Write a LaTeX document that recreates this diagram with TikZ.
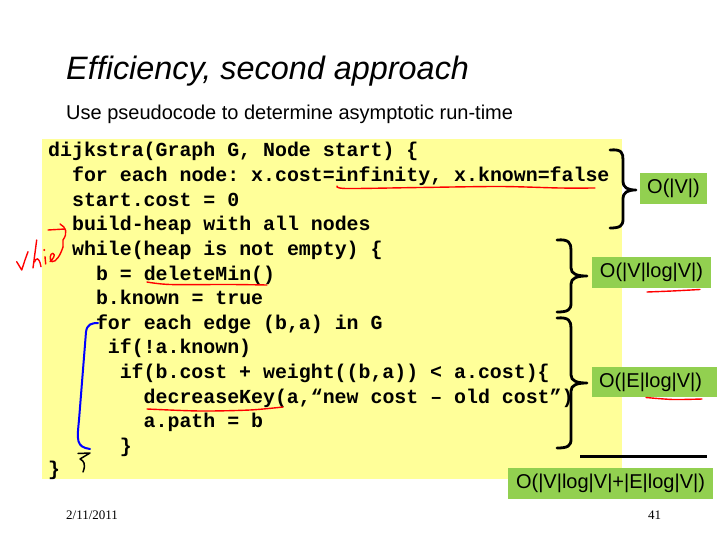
\documentclass[tikz,border=0pt]{standalone}
\usepackage{fontspec}
\setmainfont{Liberation Sans}
\newfontfamily\codefont{Liberation Mono}
\newfontfamily\seriffont{Liberation Serif}
\definecolor{codebg}{HTML}{FFFF99}
\definecolor{boxgreen}{HTML}{92D050}
\begin{document}
\begin{tikzpicture}[x=1pt,y=-1pt,
  codeline/.style={anchor=base west, inner sep=0pt, font=\codefont\bfseries\fontsize{19.9}{24}\selectfont\frenchspacing},
  gbox/.style={fill=boxgreen, text=black, inner sep=0pt, font=\fontsize{20}{24}\selectfont, minimum height=31pt},
  bracestroke/.style={line width=2.8pt, line cap=round, line join=round},
  handred/.style={red, line width=1.4pt, line cap=round, line join=round},
  footer/.style={anchor=base west, inner sep=0pt, font=\seriffont\fontsize{13}{15}\selectfont}]
\useasboundingbox (0,0) rectangle (720,540);
\fill[white] (0,0) rectangle (720,540);
% title
\node[anchor=base west, inner sep=0pt, font=\fontsize{32.4}{38}\selectfont\itshape] (title) at (66,80) {Efficiency, second approach};
\node[anchor=base west, inner sep=0pt, font=\fontsize{20}{24}\selectfont] (subtitle) at (66,120) {Use pseudocode to determine asymptotic run-time};
% code background
\fill[codebg] (42,139) rectangle (622,479);
% code lines
\node[codeline] (l1) at (48,157) {dijkstra(Graph G, Node start) \{};
\node[codeline] (l2) at (71.9,181.6) {for each node: x.cost=infinity, x.known=false};
\node[codeline] (l3) at (71.9,206.2) {start.cost = 0};
\node[codeline] (l4) at (71.9,230.8) {build-heap with all nodes};
\node[codeline] (l5) at (71.9,255.4) {while(heap is not empty) \{};
\node[codeline] (l6) at (95.8,280) {b = deleteMin()};
\node[codeline] (l7) at (95.8,304.6) {b.known = true};
\node[codeline] (l8) at (95.8,329.2) {for each edge (b,a) in G};
\node[codeline] (l9) at (107.7,353.8) {if(!a.known)};
\node[codeline] (l10) at (119.6,378.4) {if(b.cost + weight((b,a)) < a.cost)\{};
\node[codeline] (l11) at (143.5,403) {decreaseKey(a,“new cost – old cost”)};
\node[codeline] (l12) at (143.5,427.6) {a.path = b};
\node[codeline] (l13) at (119.6,452.2) {\}};
\node[codeline] (l14) at (48,475.5) {\}};
% braces
\draw[bracestroke] (610,150) .. controls (622,149) and (623,153) .. (623,160) -- (623,181) .. controls (623,188) and (628,190) .. (636,190) .. controls (628,190) and (623,192) .. (623,199) -- (623,219) .. controls (623,226) and (620,228) .. (610,228);
\draw[bracestroke] (557,240) .. controls (569,239) and (571,243) .. (571,250) -- (571,268) .. controls (571,274) and (577,276) .. (587,276) .. controls (577,276) and (571,278) .. (571,284) -- (571,303) .. controls (571,310) and (568,312) .. (557,312);
\draw[bracestroke] (557,318) .. controls (569,317) and (571,321) .. (571,328) -- (571,375) .. controls (571,381) and (577,383) .. (587,383) .. controls (577,383) and (571,385) .. (571,391) -- (571,439) .. controls (571,446) and (568,448) .. (557,448);
\draw[line width=3pt] (580,456) -- (707,456);
% green boxes
\node[gbox, minimum width=67pt] (c1) at (673.5,188.5) {O(|V|)};
\node[gbox, minimum width=119pt] (c2) at (651.5,272.5) {O(|V|log|V|)};
\node[gbox, text width=111pt, align=left, inner xsep=7pt, minimum height=30pt] (c3) at (654.5,382) {O(|E|log|V|)};
\node[gbox, minimum width=205pt] (c4) at (610.5,483.5) {O(|V|log|V|+|E|log|V|)};
% footer
\node[footer] (date) at (66,519) {2/11/2011};
\node[footer] (page) at (648,519) {41};
% red underlines
\draw[handred] plot[smooth] coordinates {(337,186) (346,188.5) (420,187.5) (500,186.5) (560,188) (595,188)};
\draw[handred] plot[smooth] coordinates {(147,282) (170,284.5) (230,284.5) (267,285)};
\draw[handred] plot[smooth] coordinates {(147,409) (200,411) (250,410) (283,407)};
\draw[handred] plot[smooth] coordinates {(647,292) (672,291) (700,289.5)};
\draw[handred] plot[smooth] coordinates {(646,397.5) (673,399.5) (702,399)};
% red arrow and scribble
\draw[handred] (48,230) -- (65,229);
\draw[handred] (60,224) .. controls (66,227) and (68,233) .. (63,240) -- (63,247);
\draw[handred] (16.7,261.7) -- (21.7,270) -- (25,260) -- (28,251.7);
\draw[handred] (36.7,240) -- (33,268);
\draw[handred] (34.5,262) .. controls (36,258) and (39,256) .. (41,266.7);
\draw[handred] (45,256.7) -- (45.7,264);
\fill[red] (44.3,250) circle (1.1pt);
\draw[handred] (50,261.7) .. controls (53,259) and (56,255) .. (53,253.3) .. controls (50,253) and (49,260) .. (52,261.7) .. controls (56,262) and (60,256) .. (63,247);
% blue bracket
\draw[blue, line width=2pt, line cap=round, line join=round] (98,323) .. controls (92,323) and (87,324) .. (86,332) -- (79,420) .. controls (77,440) and (76,447) .. (90,449);
% black squiggle
\draw[line width=1.5pt, line cap=round, line join=round] (78,453.5) -- (90,453) -- (80,459) .. controls (84,461) and (86,464) .. (83,472);
\end{tikzpicture}
\end{document}
